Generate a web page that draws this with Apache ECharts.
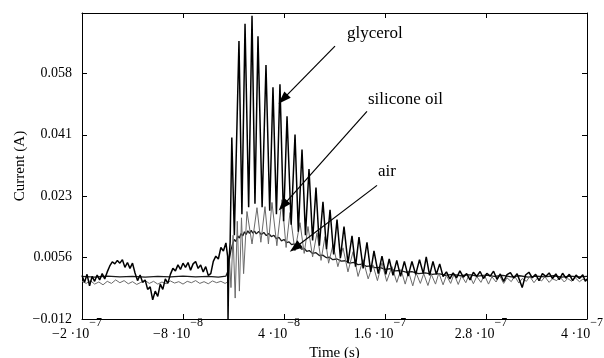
<!DOCTYPE html>
<html>
<head>
<meta charset="utf-8">
<script src="https://cdn.jsdelivr.net/npm/echarts@6/dist/echarts.min.js"></script>
<style>
html,body{margin:0;padding:0;background:#fff;}
#chart{width:604px;height:358px;}
</style>
</head>
<body>
<div id="chart"></div>
<script>
// time in ns, current in A
const xTickValues = [-200, -80, 40, 160, 280, 400];
const xTickMant = ['−2', '−8', '4', '1.6', '2.8', '4'];
const xTickExp = ['−7', '−8', '−8', '−7', '−7', '−7'];
const yTickValues = [-0.012, 0.0056, 0.0232, 0.0408, 0.0584];
const yTickLabels = ['−0.012', '0.0056', '0.023', '0.041', '0.058'];

const glycerol = [
[-200,0.0005],[-197,-0.0015],[-194,0.0008],[-191,-0.0025],[-188,0.0002],[-185,-0.0012],[-182,0.0006],[-179,-0.0008],
[-176,0.0010],[-173,-0.0005],[-170,0.0015],[-167,0.0032],[-164,0.0044],[-161,0.0038],[-158,0.0048],[-155,0.0040],
[-152,0.0050],[-149,0.0028],[-146,0.0042],[-143,0.0025],[-140,0.0040],[-137,0.0012],[-134,-0.0010],[-131,0.0006],
[-128,-0.0015],[-125,-0.0008],[-122,-0.0035],[-119,-0.0028],[-116,-0.0065],[-113,-0.0040],[-110,-0.0055],[-107,-0.0020],
[-104,-0.0035],[-101,-0.0005],[-98,-0.0018],[-95,0.0008],[-92,0.0025],[-89,0.0018],[-86,0.0035],[-83,0.0022],
[-80,0.0040],[-77,0.0028],[-74,0.0042],[-71,0.0020],[-68,0.0038],[-65,0.0045],[-62,0.0025],[-59,0.0035],
[-56,0.0015],[-53,0.0030],[-50,0.0005],[-47,0.0010],[-44,0.0045],[-41,0.0060],[-38,0.0052],[-35,0.0085],
[-32,0.0075],[-29,0.0098],[-27,0.0060],[-26.5,-0.012],[-25.5,0.004],[-24,0.010],[-22,0.040],[-19,0.012],
[-13.5,0.0677],[-10,0.018],[-6.3,0.0726],[-2,0.020],[2,0.0749],[5.5,0.021],[9.1,0.0690],[14,0.020],
[18.6,0.0608],[23,0.019],[26.9,0.0544],[31,0.018],[35.2,0.0553],[39.5,0.016],[43.6,0.0461],[48.5,0.015],
[53.1,0.0409],[57,0.013],[61.4,0.0366],[65.5,0.012],[69.7,0.0310],[74,0.0105],[78,0.0257],[82,0.009],
[86.3,0.0216],[90.5,0.008],[94.7,0.0193],[99,0.0065],[103,0.0165],[107,0.0055],[111.3,0.0145],[116,0.004],
[120.8,0.0118],[125,0.003],[129.1,0.0115],[134,0.0025],[138.6,0.0100],[143,0.0015],[146.9,0.0075],[152,0.001],
[156.4,0.0060],[161,0.0008],[165,0.0052],[169.5,0.0005],[174,0.0048],[178.5,0.0002],[183,0.0045],[187.5,0.0003],
[192,0.0045],[196.5,0.0008],[201,0.0050],[205.5,0.0010],[209,0.0058],[213,0.0005],[217,0.0045],[221,0.0008],
[225,0.0038],[229,0.0002],[233,0.0015],[237,-0.0005],[241,0.0012],[245,-0.0002],[249,0.0018],[253,0.0000],
[257,0.0010],[261,-0.0008],[265,0.0014],[269,0.0002],[273,0.0016],[277,-0.0004],[281,0.0011],[285,0.0003],
[289,0.0017],[293,-0.0006],[297,0.0009],[301,-0.0012],[305,0.0007],[309,0.0013],[313,-0.0003],[317,0.0010],
[320,-0.0010],[323,-0.0030],[327,0.0006],[331,0.0014],[335,-0.0002],[339,0.0008],[343,-0.0010],[347,0.0010],
[351,0.0002],[355,0.0012],[359,-0.0004],[363,0.0009],[367,-0.0007],[371,0.0011],[375,-0.0003],[379,0.0008],
[383,-0.0010],[387,0.0006],[391,-0.0004],[395,0.0007],[398,-0.0012],[400,-0.0005]
];

const siliconeOil = [
[-200,-0.0012],[-195,-0.0018],[-190,-0.0010],[-185,-0.0020],[-180,-0.0014],[-175,-0.0022],[-170,-0.0012],[-165,-0.0018],
[-160,-0.0008],[-155,-0.0016],[-150,-0.0010],[-145,-0.0019],[-140,-0.0013],[-135,-0.0021],[-130,-0.0015],[-125,-0.0010],
[-120,-0.0018],[-115,-0.0012],[-110,-0.0020],[-105,-0.0014],[-100,-0.0019],[-95,-0.0011],[-90,-0.0017],[-85,-0.0013],
[-80,-0.0020],[-75,-0.0012],[-70,-0.0016],[-65,-0.0010],[-60,-0.0018],[-55,-0.0013],[-50,-0.0019],[-45,-0.0011],
[-40,-0.0016],[-35,-0.0012],[-30,-0.0018],[-27,-0.0014],[-25,0.006],[-23,-0.003],[-20.5,0.012],[-18,-0.006],
[-15.5,0.016],[-13,-0.004],[-10.5,0.017],[-8,0.001],[-4,0.0188],[2,0.0095],[7.9,0.0199],[12.5,0.0100],
[17.4,0.0202],[21.5,0.0095],[25.7,0.0214],[31.5,0.0090],[37.6,0.0222],[42.5,0.0085],[47.1,0.0185],[53,0.0075],
[59,0.0156],[64,0.0068],[68.5,0.0145],[74,0.0058],[79.2,0.0127],[84,0.0048],[88.7,0.0116],[93,0.0040],
[98.2,0.0093],[104,0.0030],[110.1,0.0084],[116,0.0015],[122,0.0073],[128,0.0002],[133.9,0.0050],[140,-0.0005],
[145.7,0.0035],[151,-0.0010],[156.4,0.0041],[162,-0.0012],[168.3,0.0030],[174,-0.0015],[179,0.0022],[184,-0.0020],
[188,0.0015],[193,-0.0025],[197,0.0012],[202,-0.0018],[206,0.0010],[211,-0.0024],[215,0.0008],[220,-0.0020],
[224,0.0012],[229,-0.0022],[233,0.0005],[238,-0.0018],[242,0.0009],[247,-0.0021],[251,0.0004],[256,-0.0016],
[260,0.0008],[265,-0.0019],[269,0.0002],[274,-0.0015],[278,0.0006],[283,-0.0020],[287,0.0001],[292,-0.0014],
[296,0.0005],[301,-0.0018],[305,-0.0002],[310,-0.0013],[314,0.0003],[319,-0.0017],[323,-0.0004],[328,-0.0012],
[332,0.0002],[337,-0.0016],[341,-0.0003],[346,-0.0011],[350,0.0001],[355,-0.0015],[359,-0.0005],[364,-0.0010],
[368,0.0000],[373,-0.0014],[377,-0.0004],[382,-0.0012],[386,-0.0002],[391,-0.0013],[395,-0.0006],[400,-0.0009]
];

const air = [
[-200,0.0002],[-185,0.0000],[-170,0.0003],[-155,0.0001],[-140,0.0002],[-125,0.0000],[-110,0.0002],[-95,0.0001],
[-80,0.0003],[-65,0.0001],[-50,0.0002],[-38,0.0000],[-29,0.0003],[-27,0.0015],[-25,0.0050],[-23,0.0078],
[-21,0.0095],[-19,0.0108],[-17,0.0102],[-15,0.0118],[-13,0.0112],[-11,0.0125],[-9,0.0118],[-7,0.0130],
[-5,0.0122],[-3,0.0133],[-1,0.0125],[1,0.0134],[3,0.0126],[5,0.0132],[7,0.0124],[10,0.0131],
[13,0.0122],[16,0.0128],[19,0.0119],[22,0.0125],[25,0.0116],[28,0.0120],[31,0.0110],[34,0.0114],
[37,0.0104],[40,0.0108],[43,0.0099],[46,0.0101],[49,0.0093],[52,0.0095],[55,0.0087],[58,0.0088],
[61,0.0080],[64,0.0082],[67,0.0074],[70,0.0076],[74,0.0068],[78,0.0070],[82,0.0062],[86,0.0063],
[90,0.0056],[94,0.0057],[98,0.0050],[103,0.0052],[108,0.0046],[113,0.0047],[118,0.0040],[123,0.0042],
[128,0.0036],[133,0.0037],[138,0.0031],[143,0.0032],[148,0.0027],[154,0.0028],[160,0.0022],[166,0.0024],
[172,0.0018],[178,0.0019],[185,0.0014],[192,0.0016],[200,0.0010],[208,0.0012],[216,0.0008],[224,0.0010],
[232,0.0005],[240,0.0008],[250,0.0004],[260,0.0007],[270,0.0003],[280,0.0006],[290,0.0002],[300,0.0005],
[310,0.0001],[320,0.0004],[330,0.0000],[340,0.0003],[350,0.0001],[360,0.0004],[370,0.0000],[380,0.0003],
[390,0.0001],[400,0.0002]
];

// annotations (data coordinates)
const annoLabels = ['glycerol', 'silicone oil', 'air'];
const annoTextAt = [[114.9, 0.0697], [139.8, 0.0510], [151.7, 0.0303]];
const annoFrom = [[100.6, 0.0662], [138.6, 0.0475], [150.5, 0.0263]];
const annoTo = [[38.8, 0.0510], [38.8, 0.0205], [53, 0.0084]];

const FONT = 'Liberation Serif';
const X_MIN = -200, X_MAX = 400, Y_MIN = -0.012, Y_MAX = 0.0757;

function xLabel(v) {
  const i = xTickValues.findIndex(x => Math.abs(x - v) < 1e-6);
  return i < 0 ? '' : '{m|' + xTickMant[i] + ' ·10}{e|' + xTickExp[i] + '}';
}
function yLabel(v) {
  const i = yTickValues.findIndex(x => Math.abs(x - v) < 1e-9);
  return i < 0 ? '' : yTickLabels[i];
}

const axisLine = { show: true, onZero: false, lineStyle: { color: '#000', width: 1 } };
const tickStyle = (vals) => ({ show: true, inside: true, length: 5, customValues: vals, lineStyle: { color: '#000', width: 1 } });

const chart = echarts.init(document.getElementById('chart'), null, { renderer: 'canvas' });
chart.setOption({
  animation: false,
  backgroundColor: '#fff',
  grid: { left: 82, right: 17, top: 13, bottom: 39, outerBoundsMode: 'none', containLabel: false },
  xAxis: [
    {
      type: 'value', position: 'bottom', min: X_MIN, max: X_MAX,
      axisLine: axisLine, axisTick: tickStyle(xTickValues), splitLine: { show: false },
      name: 'Time (s)', nameLocation: 'middle', nameGap: 27, nameMoveOverlap: false,
      nameTextStyle: { fontFamily: FONT, fontSize: 15, color: '#000' },
      axisLabel: {
        customValues: xTickValues, margin: -2, formatter: xLabel, color: '#000',
        padding: [0, 10, 0, 0],
        rich: {
          m: { fontFamily: FONT, fontSize: 14, lineHeight: 24, color: '#000', verticalAlign: 'bottom' },
          e: { fontFamily: FONT, fontSize: 12, lineHeight: 8, color: '#000', verticalAlign: 'top' }
        }
      }
    },
    {
      type: 'value', position: 'top', min: X_MIN, max: X_MAX,
      axisLine: axisLine, axisTick: tickStyle(xTickValues), splitLine: { show: false },
      axisLabel: { show: false }
    }
  ],
  yAxis: [
    {
      type: 'value', position: 'left', min: Y_MIN, max: Y_MAX,
      axisLine: axisLine, axisTick: tickStyle(yTickValues), splitLine: { show: false },
      name: 'Current (A)', nameLocation: 'middle', nameGap: 54, nameRotate: 90, nameMoveOverlap: false,
      nameTextStyle: { fontFamily: FONT, fontSize: 15, color: '#000' },
      axisLabel: { customValues: yTickValues, margin: 10, formatter: yLabel, fontFamily: FONT, fontSize: 14, color: '#000' }
    },
    {
      type: 'value', position: 'right', min: Y_MIN, max: Y_MAX,
      axisLine: axisLine, axisTick: tickStyle(yTickValues), splitLine: { show: false },
      axisLabel: { show: false }
    }
  ],
  series: [
    {
      name: 'air', type: 'line', data: air, symbol: 'none', showSymbol: false,
      lineStyle: { color: '#1a1a1a', width: 1.3 }, z: 2
    },
    {
      name: 'silicone oil', type: 'line', data: siliconeOil, symbol: 'none', showSymbol: false,
      lineStyle: { color: '#6a6a6a', width: 1 }, z: 3
    },
    {
      name: 'glycerol', type: 'line', data: glycerol, symbol: 'none', showSymbol: false,
      lineStyle: { color: '#000', width: 1.5 }, z: 4,
      markLine: {
        silent: true, animation: false,
        lineStyle: { color: '#000', width: 1.2, type: 'solid' },
        label: { show: false },
        emphasis: { disabled: true },
        data: annoFrom.map((f, i) => [
          { coord: f, symbol: 'none' },
          { coord: annoTo[i], symbol: 'triangle', symbolSize: [9, 13] }
        ])
      },
      markPoint: {
        silent: true, animation: false,
        symbol: 'circle', symbolSize: 0,
        label: { show: true, position: 'right', distance: 0, formatter: p => p.name, fontFamily: FONT, fontSize: 17, color: '#000' },
        data: annoLabels.map((s, i) => ({ name: s, coord: annoTextAt[i] }))
      }
    }
  ]
});
</script>
</body>
</html>
